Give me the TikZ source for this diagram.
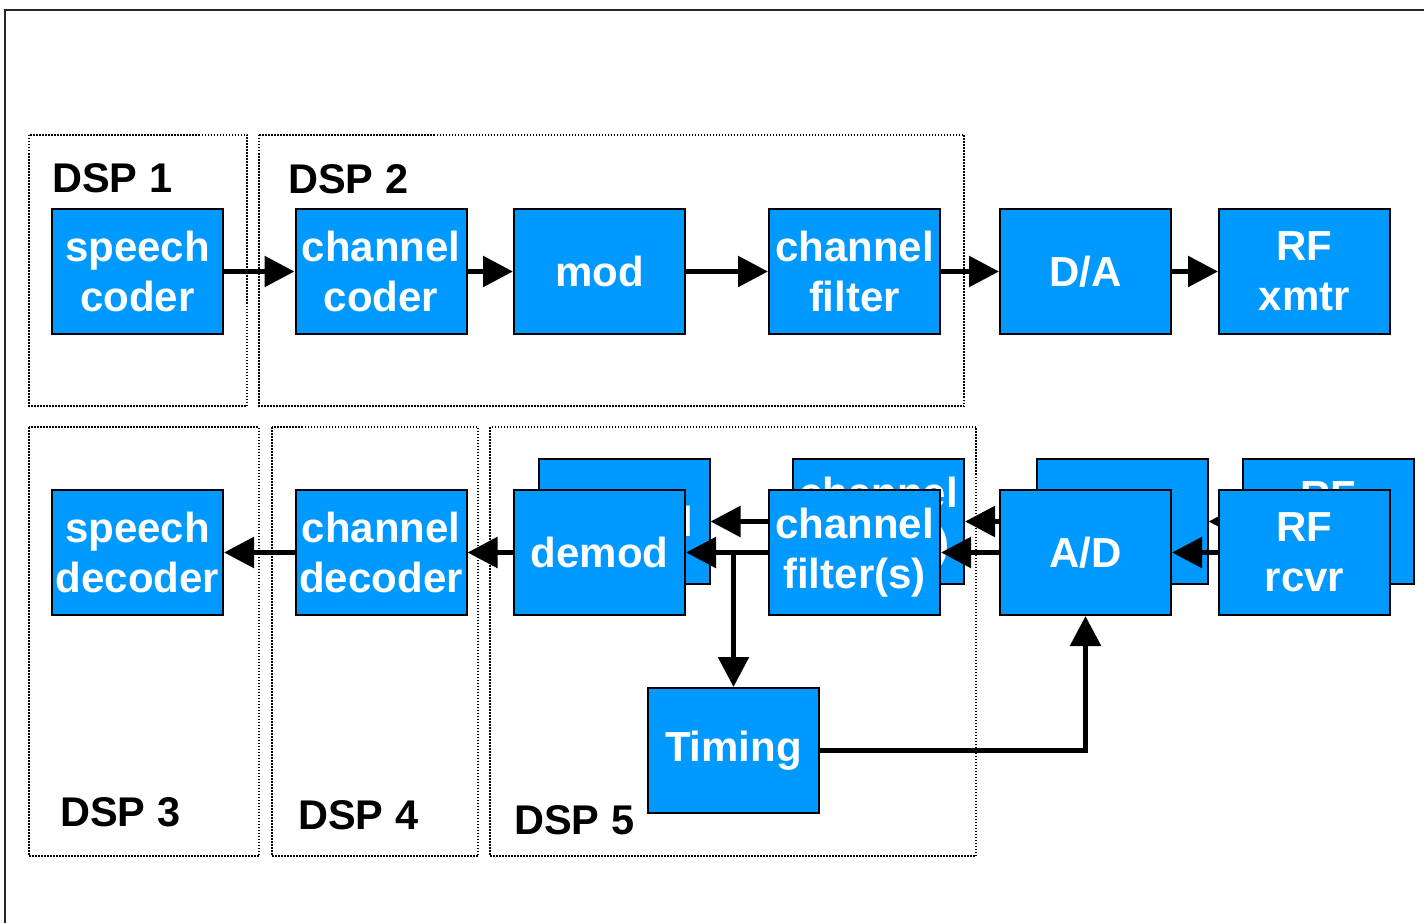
\documentclass[tikz,border=0pt]{standalone}
\usepackage{fontspec}
\setmainfont{Liberation Sans}
\usetikzlibrary{arrows.meta}
\definecolor{boxblue}{RGB}{0,153,255}
\begin{document}
\begin{tikzpicture}[x=1pt,y=-1pt,
  blk/.style={draw=black, line width=2pt, fill=boxblue, text=white,
    minimum width=171pt, minimum height=125pt, inner sep=0pt, align=center,
    font=\fontsize{42}{50}\selectfont\bfseries},
  grp/.style={draw=black, line width=1.5pt, dash pattern=on 1.5pt off 1.5pt},
  lbl/.style={anchor=base west, inner sep=0pt,
    font=\fontsize{41.5}{49}\selectfont\bfseries},
  flow/.style={line width=5.5pt, -{Triangle[length=30pt,width=30pt]}},
]
\useasboundingbox (0,0) rectangle (1424,923);
\fill[white] (0,0) rectangle (1424,923);
% page frame
\draw[line width=2pt, black!85] (5,923) -- (5,10) -- (1424,10);

% processor groupings
\draw[grp] (29,135) rectangle (247,406);
\draw[grp] (259,135) rectangle (964,406);
\draw[grp] (29,427) rectangle (259,856);
\draw[grp] (272,427) rectangle (478,856);
\draw[grp] (490,427) rectangle (976,856);

\node[lbl] (l1) at (52,192) {DSP 1};
\node[lbl] (l2) at (288,193) {DSP 2};
\node[lbl] (l3) at (60,826) {DSP 3};
\node[lbl] (l4) at (298,829) {DSP 4};
\node[lbl] (l5) at (514,834) {DSP 5};

% transmit chain
\node[blk] (sc)  at (137.5,271.5) {speech\\coder};
\node[blk] (cc)  at (381,271.5)   {channel\\coder};
\node[blk] (mod) at (599.5,271.5) {mod};
\node[blk] (cf)  at (854.5,271.5) {channel\\filter};
\node[blk] (da)  at (1085.5,271.5){D/A};
\node[blk] (rx)  at (1304.5,271.5){RF\\xmtr};

\draw[flow] (sc) -- (cc);
\draw[flow] (cc) -- (mod);
\draw[flow] (mod) -- (cf);
\draw[flow] (cf) -- (da);
\draw[flow] (da) -- (rx);

% receive chain, second (rear) copies
\node[blk] (dm2) at (624,521.5)    {demod};
\node[blk] (cfs2) at (878.5,521.5) {channel\\filter(s)};
\node[blk] (ad2) at (1122,521.5)   {A/D};
\node[blk] (rr2) at (1328.5,521.5) {RF\\rcvr};

\draw[flow] (rr2) -- (ad2);
\draw[flow] (ad2) -- (cfs2);
\draw[flow] (cfs2) -- (dm2);

% receive chain, front copies
\node[blk] (sd)  at (137.5,552.5) {speech\\decoder};
\node[blk] (cd)  at (381,552.5)   {channel\\decoder};
\node[blk] (dm)  at (599.5,552.5) {demod};
\node[blk] (cfs) at (854.5,552.5) {channel\\filter(s)};
\node[blk] (ad)  at (1085.5,552.5){A/D};
\node[blk] (rr)  at (1304.5,552.5){RF\\rcvr};
\node[blk] (tm)  at (733.5,750.5) {Timing};

\draw[flow] (rr) -- (ad);
\draw[flow] (ad) -- (cfs);
\draw[flow] (cfs) -- (dm);
\draw[flow] (dm) -- (cd);
\draw[flow] (cd) -- (sd);

\coordinate (br) at (tm.north |- dm.east);
\draw[flow] (br) -- (tm.north);
\draw[flow] (tm.east) -| (ad.south);
\end{tikzpicture}
\end{document}
